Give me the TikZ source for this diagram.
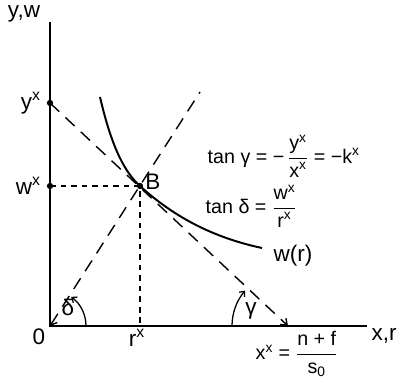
\documentclass[tikz,border=0pt]{standalone}
\usepackage{amsmath}
\usepackage{fontspec}
\setmainfont{Liberation Sans}
\usetikzlibrary{arrows.meta,positioning}

\tikzset{
  axis/.style={line width=1.4pt},
  guide/.style={line width=1pt,dash pattern=on 9pt off 6pt},
  drop/.style={line width=1pt,dash pattern=on 4pt off 3.5pt},
  lbl/.style={font=\fontsize{16}{18}\selectfont,inner sep=1pt},
  eqn/.style={font=\fontsize{14}{17}\selectfont,inner sep=1pt},
  angarc/.style={line width=0.9pt,-{Straight Barb[length=3pt,width=5pt]}},
  pt/.style={circle,fill,inner sep=0pt,minimum size=4.5pt}
}

\begin{document}
\begin{tikzpicture}[x=0.025cm,y=-0.025cm]
  \useasboundingbox (0,0) rectangle (401,380);
  % key points
  \coordinate (O) at (50,326);
  \coordinate (ytop) at (50,22);
  \coordinate (xend) at (367,326);
  \node[pt] (Ys) at (50,103) {};
  \node[pt] (Ws) at (50,186) {};
  \node[pt] (B) at (140,186) {};
  \coordinate (Rs) at (140,326);
  \coordinate (Xs) at (288,326);
  \coordinate (rayend) at (200,92);
  \coordinate (wstart) at (100,97);
  \coordinate (wend) at (262,248);
  % axes
  \draw[axis] (ytop) -- (O) -- (xend);
  % dashed lines
  \draw[guide,{Straight Barb[length=4pt,width=6pt]}-] (O) -- (rayend);
  \draw[guide,-{Straight Barb[length=4pt,width=6pt]}] (Ys.center) -- (Xs);
  \draw[drop] (Ws.center) -- (B.center) -- (Rs);
  % w(r) curve
  \draw[axis] (wstart) .. controls (110,140) and (122,170) .. (B.center)
    .. controls (175,218) and (215,238) .. (wend);
  % angles
  \draw[angarc] ([shift={(0:36)}]O) arc[start angle=0,end angle=-54,radius=36];
  \draw[angarc] ([shift={(180:56)}]Xs) arc[start angle=180,end angle=221,radius=54];
  % labels
  \node[lbl] (yw) at (24,14) {y,w};
  \node[lbl,left=3pt of Ys] (ylab) {y\textsuperscript{x}};
  \node[lbl,left=3pt of Ws] (wlab) {w\textsuperscript{x}};
  \node[lbl] (Blab) at (153,182) {B};
  \node[lbl] (Olab) at (39,337) {0};
  \node[lbl] (rlab) at (137,338) {r\textsuperscript{x}};
  \node[lbl] (xr) at (384,336) {x,r};
  \node[lbl] (wr) at (293,256) {w(r)};
  \node[lbl] (dlab) at (68,307) {δ};
  \node[lbl] (glab) at (251,311) {γ};
  \node[eqn,anchor=west] (tang) at (206,156)
    {tan γ = −\,$\dfrac{\text{y\textsuperscript{x}}}{\text{x\textsuperscript{x}}}$ = −k\textsuperscript{x}};
  \node[eqn,anchor=west] (tand) at (204,206)
    {tan δ = $\dfrac{\text{w\textsuperscript{x}}}{\text{r\textsuperscript{x}}}$};
  \node[eqn,anchor=west] (xsol) at (254,354)
    {x\textsuperscript{x} = $\dfrac{\text{n + f}}{\text{s}_{\text{0}}}$};
\end{tikzpicture}
\end{document}
